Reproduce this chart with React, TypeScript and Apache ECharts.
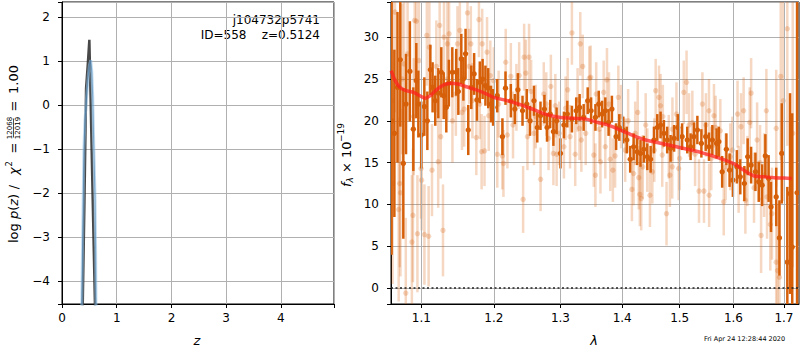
import React, { useEffect, useRef } from 'react';
import * as echarts from 'echarts';

// ---- left panel: log p(z) ----
const pzBlackZ = [0.36, 0.378, 0.41, 0.435, 0.44, 0.47, 0.5, 0.52, 0.55, 0.6, 0.625];
const pzBlackLog = [-5.8, -4.6, -2.2, -0.1, 0.38, 0.9, 1.48, 0.3, -1.5, -4.4, -5.8];
const pzBlueZ = [0.34, 0.36, 0.38, 0.4, 0.42, 0.45, 0.48, 0.5, 0.525, 0.545, 0.561, 0.58, 0.603, 0.615, 0.622, 0.635];
const pzBlueLog = [-6.5, -4.64, -2.8, -1.0, -0.35, 0.19, 0.65, 0.9, 1.02, 0.75, 0.19, -0.9, -2.08, -3.4, -4.66, -6.5];

// ---- right panel: spectrum ----
const waveTicks = [1.1, 1.2, 1.3, 1.4, 1.5, 1.6, 1.7];

const darkWave = [
  1.0615, 1.065, 1.069, 1.0726, 1.0765, 1.08, 1.085, 1.0895, 1.0934, 1.0961, 1.1, 1.104, 1.108, 1.112, 1.115, 1.1186,
  1.1227, 1.1267, 1.13, 1.1335, 1.137, 1.1417, 1.1471, 1.15, 1.1541, 1.157, 1.16, 1.1638, 1.168, 1.172, 1.176, 1.18,
  1.184, 1.188, 1.192, 1.196,
  1.199, 1.205, 1.2125, 1.217, 1.2248, 1.2307, 1.2352, 1.2421, 1.2485, 1.2533, 1.2593, 1.2643, 1.2692, 1.2752, 1.2792,
  1.2841, 1.289, 1.294, 1.3, 1.3054, 1.3107, 1.318, 1.3248, 1.3302, 1.3367, 1.3432, 1.3487,
  1.3557, 1.3611, 1.3666, 1.3719, 1.3773, 1.3828, 1.3898, 1.3951, 1.4018, 1.4077, 1.4135, 1.4193, 1.4253, 1.4311,
  1.4368, 1.4428, 1.4486, 1.4544, 1.4602, 1.466, 1.4719, 1.4777, 1.4837, 1.49, 1.4965, 1.5044, 1.5137, 1.5198,
  1.5259, 1.5322, 1.5396, 1.5476, 1.5537, 1.56, 1.568, 1.5722, 1.5785, 1.5865, 1.5926, 1.5989, 1.6066, 1.6132, 1.6211,
  1.6276, 1.6343, 1.6428, 1.6493, 1.656, 1.6625, 1.669, 1.6738, 1.6843, 1.6908, 1.6956, 1.7069, 1.7125, 1.717, 1.727,
];
const darkFlux = [
  20.0, 18.5, 24.0, 27.3, 14.9, 22.0, 25.9, 19.0, 24.8, 22.0, 18.3, 21.7, 20.0, 26.1, 24.0, 22.4,
  23.3, 25.8, 23.0, 21.6, 24.5, 25.8, 25.8, 23.5, 27.4, 25.0, 28.0, 18.9, 24.0, 25.6, 22.5, 24.6,
  25.0, 24.2, 23.9, 22.0,
  21.6, 23.0, 18.1, 23.9, 22.4, 21.4, 23.7, 21.2, 22.0, 20.0, 22.4, 19.2, 20.6, 21.4, 19.2,
  20.8, 18.7, 20.0, 16.1, 19.5, 20.8, 20.2, 21.2, 21.6, 20.4, 22.4, 21.2,
  20.4, 22.0, 20.8, 21.2, 19.8, 21.4, 18.1, 19.2, 18.9, 17.7, 15.4, 16.9, 16.3, 16.1,
  16.6, 15.7, 15.4, 17.7, 19.2, 19.5, 18.5, 17.7, 16.7, 17.9, 19.2, 18.1, 17.7, 16.9,
  18.1, 18.9, 17.3, 18.1, 16.9, 17.7, 17.3, 17.5, 13.9, 16.6, 14.1, 12.9, 14.5, 13.3, 12.5,
  15.7, 14.7, 13.9, 12.7, 12.3, 15.8, 13.1, 9.7, 10.9, 6.0, 16.1, 3.1, 11.3, 4.9, 11.4,
];
const darkErr = [
  16, 10, 9, 8, 9, 6, 6, 5, 4.5, 4, 4, 3.5, 3.5, 3, 3, 3,
  3, 3, 2.8, 3, 2.8, 3, 2.8, 2.8, 3, 2.6, 3, 3, 2.6, 2.5, 2.5, 2.5,
  2.4, 2.4, 2.4, 2.2,
  2.2, 2.0, 2.2, 2.0, 2.0, 1.8, 2.0, 1.8, 1.8, 1.8, 1.8, 1.8, 1.7, 1.7, 1.7,
  1.7, 1.7, 1.6, 1.8, 1.6, 1.6, 1.6, 1.6, 1.6, 1.6, 1.6, 1.6,
  1.6, 1.6, 1.6, 1.6, 1.6, 1.6, 1.6, 1.6, 1.6, 1.6, 1.6, 1.6, 1.6, 1.6,
  1.6, 1.6, 1.6, 1.6, 1.6, 1.6, 1.6, 1.6, 1.6, 1.6, 1.6, 1.6, 1.6, 1.6,
  1.7, 1.7, 1.7, 1.7, 1.7, 1.8, 1.8, 1.8, 1.9, 1.9, 2.0, 2.0, 2.0, 2.1, 2.1,
  2.2, 2.2, 2.3, 2.4, 2.5, 2.6, 2.8, 3.0, 3.5, 4.5, 6, 9, 12, 16, 30,
];

const lightWave = [
  1.0627, 1.0627, 1.0658, 1.0705, 1.0719, 1.0728, 1.0775, 1.0797, 1.082, 1.0876, 1.089, 1.0913, 1.0935, 1.0949, 1.0968,
  1.0996, 1.1004, 1.1041, 1.1073, 1.1097, 1.1107, 1.1142, 1.1225, 1.1245, 1.1259, 1.129, 1.1304, 1.135, 1.1373, 1.1419,
  1.1466, 1.1488, 1.1521, 1.1581, 1.1627, 1.1674, 1.1696, 1.1751, 1.1788, 1.1826, 1.1834, 1.1867, 1.1903, 1.1927, 1.195,
  1.2, 1.205, 1.2124, 1.214, 1.2173, 1.2198, 1.2248, 1.2371, 1.243, 1.2445, 1.247, 1.2495, 1.2519, 1.2593, 1.2693,
  1.2742, 1.2815, 1.2851, 1.289, 1.294, 1.3054, 1.3113, 1.315, 1.318, 1.3232, 1.33, 1.3313, 1.333, 1.3352, 1.3458,
  1.348, 1.353, 1.3557, 1.357, 1.3639, 1.3692, 1.3719, 1.3746, 1.38, 1.3844, 1.3881, 1.3935, 1.4164, 1.4193, 1.4263,
  1.4281, 1.4299, 1.4323, 1.4428, 1.4474, 1.4516, 1.4574, 1.4632, 1.466, 1.4689, 1.4765, 1.4805, 1.4825, 1.4867, 1.4942,
  1.4982, 1.5074, 1.5124,
  1.523, 1.5352, 1.5415, 1.5444, 1.5537, 1.554, 1.563, 1.5661, 1.5815, 1.594, 1.6079, 1.6146, 1.6197, 1.6231, 1.6316,
  1.6343, 1.6461, 1.654, 1.6645, 1.6658, 1.6724, 1.6757, 1.6843, 1.6843, 1.6869, 1.6908, 1.6935, 1.6987, 1.7069, 1.718,
  1.075, 1.09, 1.12, 1.135, 1.155, 1.165, 1.18, 1.207, 1.228, 1.233, 1.255, 1.262, 1.278, 1.292, 1.298, 1.308, 1.327,
  1.34, 1.362, 1.378, 1.398, 1.405, 1.41, 1.422, 1.435, 1.44, 1.455, 1.47, 1.487, 1.5, 1.517, 1.528, 1.548, 1.558,
  1.575, 1.585, 1.598, 1.61, 1.627, 1.64, 1.652, 1.66,
];
const lightFlux = [
  22.4, 12.5, 33.0, 9.4, 12.5, 11.4, 26.8, -0.6, 28.0, 5.5, 8.7, 32.0, 31.9, 6.5, 27.2,
  14.3, 12.9, 6.4, 30.2, 6.2, 28.8, 14.1, 15.1, 31.4, 18.1, 6.9, 30.0, 29.2, 30.4, 20.0,
  23.2, 29.2, 30.8, 21.4, 32.9, 29.2, 22.4, 18.0, 32.1, 16.3, 29.2, 16.4, 28.2, 20.6, 25.4,
  24.8, 16.0, 15.8, 14.9, 27.0, 18.3, 25.3, 25.4, 10.6, 27.6, 25.7, 18.1, 27.6, 18.5, 13.0,
  23.2, 17.9, 24.1, 16.1, 16.0, 16.9, 23.7, 18.1, 30.5, 16.0, 19.1, 29.2, 17.7, 26.5, 25.1,
  25.2, 15.9, 13.5, 23.2, 15.1, 23.4, 16.9, 24.9, 15.4, 14.1, 15.8, 22.8, 11.8, 13.7, 21.0,
  13.2, 11.2, 10.7, 15.3, 11.1, 13.9, 23.6, 22.8, 21.8, 15.9, 8.9, 16.9, 13.5, 14.5, 20.8,
  14.3, 23.4, 24.6,
  19.8, 11.6, 22.0, 11.6, 21.2, 11.1, 20.6, 19.2, 10.3, 15.7, 20.8, 19.3, 21.2, 10.5, 19.8,
  23.3, 17.7, 6.3, 21.2, 10.9, 7.6, 8.9, 3.1, 19.1, 2.1, 1.3, 25.3, 22.4, 31.0, 18.5,
  25.0, 20.5, 26.5, 25.0, 21.0, 26.5, 22.0, 22.0, 19.5, 22.8, 23.5, 20.5, 22.0, 21.8, 18.5, 21.5, 22.5,
  18.5, 19.0, 22.0, 20.5, 16.5, 20.0, 18.5, 14.5, 19.5, 16.5, 20.5, 19.0, 15.5, 19.5, 16.0, 19.5, 15.5,
  18.8, 14.5, 16.5, 13.0, 14.0, 12.0, 15.0, 13.5,
];
const lightErr = [
  12, 12, 12, 11, 10, 10, 9, 9, 8, 8, 8, 7, 7, 7, 7,
  6, 6, 6, 6, 6, 5.5, 5.5, 5.5, 5, 5, 5.5, 5, 5, 5, 5,
  5, 4.5, 4.5, 4.5, 4.5, 4.5, 4.5, 4.5, 4.5, 4.5, 4.2, 4.2, 4.2, 4.2, 4.2,
  4, 4, 4, 4, 4, 4, 4, 4, 4, 4, 4, 4, 4, 3.8, 3.8,
  3.8, 3.8, 3.8, 3.8, 3.8, 3.8, 3.8, 3.8, 3.8, 3.8, 3.8, 3.8, 3.8, 3.8, 3.8,
  3.8, 3.8, 3.8, 3.8, 3.8, 3.8, 3.8, 3.8, 3.8, 3.8, 3.8, 3.8, 3.8, 3.8, 3.8,
  3.8, 3.8, 3.8, 3.8, 3.8, 3.8, 3.8, 3.8, 3.8, 3.8, 3.8, 3.8, 3.8, 3.8, 3.8,
  3.8, 3.8, 3.8,
  3.8, 3.8, 3.8, 3.8, 3.8, 3.8, 3.8, 3.8, 4, 4, 4, 4, 4, 4, 4.2,
  4.2, 4.5, 4.5, 5, 5, 5.5, 5.5, 7, 7, 8, 9, 10, 12, 14, 16,
  9, 7, 5.5, 5, 4.5, 4.5, 4.2, 4, 4, 4, 3.8, 3.8, 3.8, 3.8, 3.8, 3.8, 3.8,
  3.8, 3.8, 3.8, 3.8, 3.8, 3.8, 3.8, 3.8, 3.8, 3.8, 3.8, 3.8, 3.8, 3.8, 3.8, 3.8, 3.8,
  3.8, 4, 4, 4, 4.2, 4.2, 4.5, 5,
];

const modelWave = [
  1.061, 1.066, 1.072, 1.08, 1.09, 1.098, 1.105, 1.112, 1.12, 1.13, 1.14, 1.15, 1.16, 1.175, 1.19, 1.2, 1.22, 1.24,
  1.26, 1.28, 1.3, 1.32, 1.34, 1.36, 1.38, 1.4, 1.42, 1.44, 1.46, 1.48, 1.5, 1.52, 1.54, 1.56, 1.58, 1.6, 1.615,
  1.63, 1.64, 1.66, 1.68, 1.7, 1.716,
];
const modelFlux = [
  26.0, 24.8, 24.0, 23.6, 23.4, 23.0, 22.7, 23.0, 23.7, 24.3, 24.5, 24.4, 24.1, 23.7, 23.2, 22.8, 22.4, 21.9,
  21.3, 20.7, 20.4, 20.3, 20.2, 19.8, 19.4, 18.8, 18.2, 17.7, 17.4, 17.1, 16.8, 16.5, 16.2, 15.8, 15.4, 14.9, 14.3,
  13.7, 13.4, 13.3, 13.2, 13.15, 13.1,
];

const FONT = '"DejaVu Sans", sans-serif';
const DARK = 'rgb(214,96,10)';
const LIGHT = 'rgba(214,96,10,0.25)';

const minus = (s: string) => s.replace('-', '\u2212');

function errorBarRenderer(color: string, width: number, radius: number) {
  return (_params: any, api: any) => {
    const x = api.value(0);
    const y = api.value(1);
    const e = api.value(2);
    const c = api.coord([x, y]);
    const hi = api.coord([x, y + e]);
    const lo = api.coord([x, y - e]);
    return {
      type: 'group',
      children: [
        { type: 'line', shape: { x1: hi[0], y1: hi[1], x2: lo[0], y2: lo[1] }, style: { stroke: color, lineWidth: width } },
        { type: 'circle', shape: { cx: c[0], cy: c[1], r: radius }, style: { fill: color } },
      ],
    };
  };
}

function buildOption(): any {
  const zip3 = (a: number[], b: number[], c: number[]) => a.map((v, i) => [v, b[i], c[i]]);
  const zip2 = (a: number[], b: number[]) => a.map((v, i) => [v, b[i]]);
  const axisLine = { show: true, onZero: false, lineStyle: { color: '#000', width: 1 } };
  const axisTick = { show: true, length: 4, lineStyle: { color: '#000', width: 1 } };
  const splitLine = { show: true, lineStyle: { color: '#b0b0b0', width: 1 } };
  const labelStyle = { color: '#000', fontSize: 12, fontFamily: FONT };
  const intLabel = (step: number) => (v: number) =>
    Math.abs(v / step - Math.round(v / step)) < 1e-6 ? minus(String(Math.round(v))) : '';
  const t = (x: number, y: number, text: string, font: string, align = 'center') => ({
    type: 'text', x, y, style: { text, align, verticalAlign: 'middle', font, fill: '#000' },
  });

  return {
    animation: false,
    textStyle: { fontFamily: FONT },
    grid: [
      { left: 62, top: 2, width: 272, height: 302, show: true, borderColor: '#000', borderWidth: 1, backgroundColor: '#fff' },
      { left: 391, top: 2, width: 408, height: 302, show: true, borderColor: '#000', borderWidth: 1, backgroundColor: '#fff' },
    ],
    xAxis: [
      {
        gridIndex: 0, type: 'value', min: 0, max: 4.97, splitNumber: 5, axisLine, axisTick, splitLine,
        axisLabel: { ...labelStyle, margin: 8, formatter: intLabel(1) },
      },
      {
        gridIndex: 1, type: 'log', logBase: 10, min: 1.0607, max: 1.731, axisLine,
        axisTick: { ...axisTick, customValues: waveTicks },
        splitLine: { show: false },
        axisLabel: { ...labelStyle, margin: 8, customValues: waveTicks, formatter: (v: number) => v.toFixed(1) },
      },
    ],
    yAxis: [
      {
        gridIndex: 0, type: 'value', min: -4.52, max: 2.34, splitNumber: 7, axisLine, axisTick, splitLine,
        axisLabel: { ...labelStyle, margin: 12, formatter: intLabel(1) },
      },
      {
        gridIndex: 1, type: 'value', min: -1.9, max: 34.2, splitNumber: 7, axisLine, axisTick, splitLine,
        axisLabel: { ...labelStyle, margin: 12, formatter: intLabel(5) },
      },
    ],
    series: [
      {
        type: 'line', xAxisIndex: 0, yAxisIndex: 0, data: zip2(pzBlackZ, pzBlackLog), showSymbol: false, symbol: 'none',
        lineStyle: { color: 'rgba(40,40,40,0.85)', width: 2.5 }, clip: true, z: 3,
      },
      {
        type: 'line', xAxisIndex: 0, yAxisIndex: 0, data: zip2(pzBlueZ, pzBlueLog), showSymbol: false, symbol: 'none',
        lineStyle: { color: 'rgba(150,195,232,0.55)', width: 3 }, clip: true, z: 4,
      },
      {
        type: 'line', xAxisIndex: 0, yAxisIndex: 0, data: zip2(pzBlueZ, pzBlueLog), showSymbol: false, symbol: 'none',
        lineStyle: { color: 'rgba(60,120,170,0.55)', width: 1.1 }, clip: true, z: 5,
      },
      {
        type: 'line', xAxisIndex: 1, yAxisIndex: 1, data: [], z: 1, silent: true,
        markLine: {
          silent: true, symbol: 'none', animation: false, label: { show: false },
          lineStyle: { color: '#b0b0b0', width: 1, type: 'solid' },
          data: waveTicks.map((w) => ({ xAxis: w })),
        },
      },
      {
        type: 'custom', xAxisIndex: 1, yAxisIndex: 1, clip: true, z: 2,
        data: zip3(lightWave, lightFlux, lightErr), encode: { x: 0, y: 1 },
        renderItem: errorBarRenderer(LIGHT, 2.5, 2.7),
      },
      {
        type: 'custom', xAxisIndex: 1, yAxisIndex: 1, clip: true, z: 3,
        data: zip3(darkWave, darkFlux, darkErr), encode: { x: 0, y: 1 },
        renderItem: errorBarRenderer(DARK, 2.5, 2.7),
      },
      {
        type: 'line', xAxisIndex: 1, yAxisIndex: 1, data: zip2(modelWave, modelFlux), showSymbol: false, symbol: 'none',
        smooth: 0.3, lineStyle: { color: 'rgba(255,30,30,0.72)', width: 3.5 }, z: 5,
        markLine: {
          silent: true, symbol: 'none', animation: false, label: { show: false },
          lineStyle: { color: '#222', width: 1.5, type: [2, 2.5] },
          data: [{ yAxis: 0 }],
        },
      },
    ],
    graphic: [
      t(320, 20, 'j104732p5741', `12px ${FONT}`, 'right'),
      t(320, 35, 'ID=558    z=0.5124', `12px ${FONT}`, 'right'),
      t(197, 340, 'z', `italic 13px ${FONT}`),
      t(594, 340, 'λ', `italic 13px ${FONT}`),
      t(744.5, 339, 'Fri Apr 24 12:28:44 2020', `6.5px ${FONT}`),
      {
        type: 'group', x: 13, y: 243, rotation: Math.PI / 2,
        children: [
          {
            type: 'text', x: 0, y: 0,
            style: {
              text: '{n|log }{i|p}{n|(}{i|z}{n|)}', align: 'left', verticalAlign: 'middle', fill: '#000',
              rich: { n: { fontSize: 13, fontFamily: FONT }, i: { fontSize: 13, fontFamily: FONT, fontStyle: 'italic' } },
            },
          },
          t(56, 0, '/', `13px ${FONT}`),
          t(68, 0, 'χ', `italic 13px ${FONT}`, 'left'),
          t(76.5, -4, '2', `8.5px ${FONT}`, 'left'),
          t(95, 0, '=', `13px ${FONT}`),
          t(115, -3.5, '12068', `7px ${FONT}`),
          { type: 'line', shape: { x1: 105.5, y1: 0.5, x2: 124.5, y2: 0.5 }, style: { stroke: '#000', lineWidth: 0.7 } },
          t(115, 4.5, '12019', `7px ${FONT}`),
          t(137, 0, '=', `13px ${FONT}`),
          t(149, 0, '1.00', `13px ${FONT}`, 'left'),
        ],
      },
      {
        type: 'group', x: 346, y: 187, rotation: Math.PI / 2,
        children: [
          t(0, 0, 'f', `italic 13px ${FONT}`, 'left'),
          t(4.5, 3.5, 'λ', `italic 9px ${FONT}`, 'left'),
          t(14, 0, '× 10', `13px ${FONT}`, 'left'),
          t(45, -5, '−19', `9px ${FONT}`, 'left'),
        ],
      },
    ],
  };
}

export default function App() {
  const ref = useRef<HTMLDivElement>(null);
  useEffect(() => {
    document.body.style.margin = '0';
    const chart = echarts.init(ref.current!, null, { renderer: 'svg' });
    chart.setOption(buildOption());
    return () => chart.dispose();
  }, []);
  return <div ref={ref} style={{ width: 800, height: 350, background: '#fff' }} />;
}
